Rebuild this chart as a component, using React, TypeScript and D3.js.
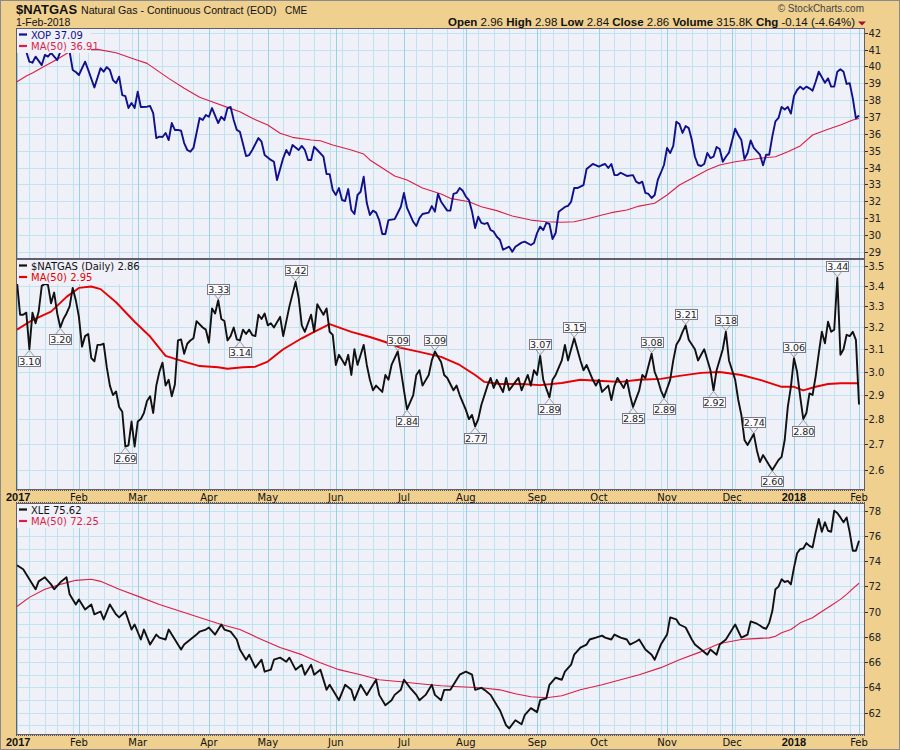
import React from "react";
import * as d3 from "d3";

// ---------- axis / calendar ----------
const HOLIDAYS = ["2017-01-16","2017-02-20","2017-04-14","2017-05-29","2017-07-04","2017-09-04","2017-11-23","2017-12-25","2018-01-01","2018-01-15"];
const MONTH_NAMES = ["Jan","Feb","Mar","Apr","May","Jun","Jul","Aug","Sep","Oct","Nov","Dec"];
const START = [2017, 0, 3];
const END = [2018, 1, 1];

const XOP_TICKS = [29,30,31,32,33,34,35,36,37,38,39,40,41,42];
const NG_TICKS = [2.6,2.7,2.8,2.9,3.0,3.1,3.2,3.3,3.4,3.5];
const XLE_TICKS = [62,64,66,68,70,72,74,76,78];
const XLE_GRID = [61,62,63,64,65,66,67,68,69,70,71,72,73,74,75,76,77,78];

// ---------- data: [trading-day index from 2017-01-03, value] ----------
const XOP: [number, number][] = [[0,41.0],[3,40.87],[4,40.28],[5,40.22],[6,40.58],[8,40.08],[9,40.68],[10,40.58],[11,40.8],[13,40.38],[14,40.87],[15,41.05],[17,40.87],[18,39.79],[19,39.67],[20,39.49],[22,40.28],[23,39.79],[25,38.75],[27,39.9],[28,39.69],[29,39.96],[30,39.79],[31,39.19],[32,39.01],[33,39.39],[34,38.3],[35,38.24],[36,37.53],[37,37.83],[38,37.53],[39,38.5],[40,37.59],[42,37.61],[43,37.65],[44,37.23],[45,35.75],[46,35.83],[47,35.81],[48,36.05],[49,35.63],[50,36.64],[51,36.23],[52,36.23],[53,36.18],[54,35.45],[55,35.04],[56,34.94],[57,35.16],[58,36.05],[59,36.94],[60,36.82],[61,37.12],[62,37.01],[63,37.53],[65,36.64],[66,37.01],[67,36.82],[68,37.53],[69,37.59],[70,36.82],[71,36.23],[72,36.12],[74,34.68],[75,34.74],[76,35.04],[78,35.75],[79,35.53],[80,34.74],[82,34.45],[83,34.34],[84,33.26],[86,34.56],[87,35.04],[88,34.74],[89,35.34],[91,35.04],[92,35.28],[93,35.04],[94,34.45],[95,34.45],[96,35.23],[97,35.04],[99,34.64],[100,33.61],[101,33.61],[102,32.66],[103,32.37],[104,32.78],[105,32.07],[106,32.01],[107,32.72],[108,31.48],[109,31.24],[110,32.37],[111,32.56],[112,33.45],[113,31.89],[114,31.18],[115,31.44],[116,31.32],[117,30.88],[118,30.05],[119,30.05],[120,30.88],[122,30.94],[123,31.3],[124,31.67],[125,32.49],[126,31.6],[128,30.78],[129,30.53],[130,31.0],[131,31.24],[133,31.32],[134,31.71],[135,31.38],[136,32.43],[137,31.97],[139,31.44],[140,31.44],[141,32.43],[142,32.49],[143,32.78],[144,32.62],[145,32.27],[146,32.07],[147,31.38],[148,30.41],[149,31.08],[150,30.71],[151,30.65],[152,30.71],[153,30.29],[154,30.19],[155,29.89],[156,29.71],[157,29.12],[159,29.3],[160,29.0],[161,29.3],[163,29.54],[164,29.6],[166,29.4],[167,29.52],[168,30.11],[169,30.49],[170,30.29],[171,30.72],[172,30.65],[173,29.76],[174,30.11],[175,31.38],[177,31.66],[178,31.72],[179,31.97],[180,32.78],[181,32.78],[183,32.96],[184,33.91],[186,34.21],[188,34.05],[189,34.15],[190,34.21],[191,33.97],[192,34.21],[193,33.55],[194,33.55],[195,33.69],[197,33.5],[199,33.55],[200,33.16],[201,33.06],[202,33.16],[203,32.49],[204,32.43],[205,32.19],[206,32.37],[207,33.26],[208,33.69],[209,34.15],[210,35.16],[211,34.86],[212,35.28],[213,36.72],[214,36.58],[215,36.05],[216,36.46],[217,36.34],[218,35.63],[219,34.64],[220,34.15],[221,34.09],[222,34.21],[223,34.86],[224,34.56],[225,34.64],[226,35.22],[227,35.1],[228,34.34],[229,34.64],[230,34.88],[232,36.3],[233,35.93],[234,35.63],[235,34.5],[236,34.86],[237,35.61],[238,35.16],[240,34.76],[241,34.13],[242,34.76],[243,34.76],[244,35.85],[245,36.74],[246,36.94],[247,37.6],[248,37.44],[249,37.6],[250,37.2],[251,38.25],[252,38.6],[253,38.8],[254,38.64],[255,38.8],[256,38.7],[257,38.56],[258,39.09],[259,39.69],[261,39.03],[262,39.29],[263,38.8],[264,38.8],[265,39.69],[266,39.83],[267,39.69],[268,38.96],[269,39.0],[270,38.1],[271,36.92],[272,37.09]];

const XOP_MA: [number, number][] = [[0,39.09],[3,39.43],[5,39.61],[8,39.92],[13,40.42],[17,40.87],[22,40.99],[26,41.01],[32,40.81],[38,40.42],[42,40.18],[49,39.29],[54,38.7],[59,38.17],[63,37.9],[68,37.57],[72,37.31],[76,36.92],[81,36.52],[85,36.03],[89,35.79],[95,35.63],[98,35.59],[102,35.34],[108,35.04],[112,34.8],[114,34.45],[118,33.97],[122,33.5],[126,33.26],[131,32.78],[137,32.43],[140,32.17],[146,31.97],[150,31.67],[155,31.44],[160,31.12],[166,30.88],[171,30.78],[176,30.75],[180,30.78],[184,30.94],[189,31.18],[192,31.32],[197,31.48],[201,31.71],[206,31.88],[210,32.37],[214,32.96],[219,33.45],[223,33.85],[227,34.15],[232,34.34],[236,34.45],[240,34.55],[245,34.64],[249,34.94],[253,35.28],[257,35.93],[262,36.27],[266,36.52],[270,36.82],[272,36.91]];

const NG: [number, number][] = [[0,3.42],[1,3.26],[2,3.26],[3,3.27],[4,3.10],[5,3.27],[6,3.22],[7,3.275],[8,3.40],[9,3.41],[10,3.405],[11,3.315],[12,3.367],[13,3.266],[14,3.20],[15,3.24],[16,3.266],[17,3.30],[18,3.39],[19,3.33],[20,3.25],[21,3.112],[22,3.16],[23,3.17],[24,3.06],[25,3.046],[26,3.12],[27,3.12],[28,3.125],[29,3.02],[30,2.94],[31,2.90],[32,2.915],[33,2.85],[34,2.83],[35,2.69],[36,2.695],[37,2.79],[38,2.69],[39,2.79],[40,2.80],[41,2.825],[42,2.875],[43,2.895],[44,2.825],[45,2.94],[46,3.00],[47,3.04],[48,2.94],[49,2.965],[50,2.895],[51,2.945],[52,3.14],[53,3.145],[54,3.08],[55,3.125],[56,3.14],[57,3.15],[58,3.23],[60,3.20],[61,3.19],[62,3.13],[63,3.29],[64,3.266],[65,3.33],[66,3.24],[67,3.23],[68,3.14],[69,3.16],[70,3.20],[71,3.145],[72,3.14],[73,3.19],[74,3.17],[75,3.19],[76,3.165],[77,3.16],[78,3.26],[79,3.24],[80,3.266],[81,3.21],[82,3.22],[83,3.20],[85,3.25],[86,3.16],[88,3.30],[90,3.42],[91,3.34],[92,3.21],[93,3.18],[95,3.26],[96,3.18],[97,3.31],[99,3.26],[100,3.29],[101,3.18],[102,3.166],[103,3.03],[104,3.075],[106,3.03],[107,3.075],[108,2.986],[109,3.10],[110,3.03],[112,3.12],[113,3.03],[114,2.965],[115,2.92],[116,2.94],[118,2.913],[119,2.986],[120,2.965],[121,3.03],[123,3.09],[124,3.007],[125,2.92],[126,2.84],[128,2.90],[129,2.986],[130,3.007],[131,2.94],[133,2.986],[134,3.05],[135,3.09],[137,3.043],[138,2.986],[139,2.973],[141,2.92],[142,2.94],[143,2.90],[145,2.838],[146,2.80],[147,2.817],[148,2.77],[149,2.80],[150,2.858],[152,2.94],[153,2.973],[154,2.93],[155,2.965],[157,2.913],[158,2.973],[159,2.92],[161,2.956],[162,2.973],[163,2.92],[165,2.986],[166,2.94],[167,3.007],[168,2.986],[169,3.07],[170,2.965],[172,2.89],[173,2.965],[174,2.986],[176,3.05],[177,3.12],[178,3.05],[179,3.10],[180,3.15],[182,3.05],[183,3.007],[184,3.03],[186,2.965],[187,2.94],[188,2.965],[189,2.913],[191,2.94],[192,2.879],[193,2.94],[194,2.973],[196,2.93],[197,2.965],[198,2.90],[199,2.85],[201,2.92],[202,2.986],[203,2.973],[205,3.08],[206,2.999],[207,2.965],[208,2.92],[209,2.89],[211,2.965],[212,3.05],[213,3.12],[214,3.143],[215,3.18],[216,3.21],[217,3.143],[219,3.10],[220,3.05],[221,3.075],[222,3.10],[224,3.007],[225,2.92],[226,3.007],[228,3.10],[229,3.18],[230,3.05],[232,2.965],[233,2.879],[234,2.817],[235,2.716],[236,2.696],[238,2.74],[239,2.676],[240,2.63],[241,2.657],[243,2.618],[244,2.60],[246,2.638],[247,2.65],[248,2.716],[249,2.85],[250,2.935],[251,3.06],[252,3.0],[253,2.893],[254,2.80],[255,2.825],[256,2.907],[257,2.90],[258,2.98],[259,3.082],[260,3.18],[261,3.127],[262,3.227],[263,3.18],[264,3.19],[265,3.44],[266,3.075],[267,3.10],[268,3.166],[269,3.16],[270,3.18],[271,3.143],[272,2.86]];

const NG_MA: [number, number][] = [[0,3.19],[5,3.235],[11,3.275],[16,3.346],[20,3.39],[24,3.397],[27,3.384],[32,3.32],[38,3.227],[43,3.158],[48,3.07],[54,3.045],[59,3.025],[65,3.02],[68,3.013],[73,3.02],[77,3.022],[81,3.045],[86,3.10],[92,3.15],[96,3.18],[101,3.216],[108,3.18],[114,3.156],[119,3.133],[124,3.106],[130,3.088],[137,3.066],[143,3.03],[148,2.986],[151,2.956],[156,2.947],[163,2.947],[169,2.942],[176,2.951],[182,2.965],[189,2.96],[195,2.956],[201,2.965],[208,2.969],[214,2.982],[221,2.995],[227,2.999],[234,2.986],[240,2.965],[247,2.935],[251,2.935],[254,2.92],[258,2.935],[262,2.947],[266,2.95],[270,2.95],[272,2.95]];

// [day index, value, 'h' (peak) | 'l' (trough)]
const NG_LABELS: [number, number, string][] = [[4,3.10,"l"],[14,3.20,"l"],[35,2.69,"l"],[65,3.33,"h"],[72,3.14,"l"],[90,3.42,"h"],[123,3.09,"h"],[126,2.84,"l"],[135,3.09,"h"],[148,2.77,"l"],[169,3.07,"h"],[172,2.89,"l"],[180,3.15,"h"],[199,2.85,"l"],[205,3.08,"h"],[209,2.89,"l"],[216,3.21,"h"],[225,2.92,"l"],[229,3.18,"h"],[238,2.74,"h"],[244,2.60,"l"],[251,3.06,"h"],[254,2.80,"l"],[265,3.44,"h"]];

const XLE: [number, number][] = [[0,73.68],[2,73.36],[3,72.96],[4,72.56],[6,71.77],[7,72.4],[9,72.72],[11,72.16],[12,71.77],[14,72.32],[16,72.72],[17,71.37],[19,70.57],[20,70.97],[22,70.17],[24,70.57],[25,69.78],[27,70.01],[28,69.38],[30,70.57],[32,69.78],[33,69.54],[35,70.01],[37,68.58],[38,68.98],[40,67.79],[41,68.58],[43,67.39],[45,68.18],[46,67.94],[48,67.79],[49,68.58],[51,67.79],[53,66.99],[54,67.39],[56,67.79],[58,68.18],[59,68.42],[61,68.58],[62,68.74],[64,68.18],[66,68.98],[67,68.58],[69,68.42],[71,67.79],[72,66.99],[74,66.19],[75,66.59],[77,65.56],[79,66.19],[80,65.24],[82,65.4],[83,66.19],[85,66.35],[87,66.03],[88,66.35],[90,65.4],[92,65.79],[93,65.0],[95,65.79],[96,65.0],[98,65.4],[100,63.8],[101,64.2],[103,63.4],[104,62.98],[106,64.2],[108,63.8],[109,62.98],[111,64.2],[113,63.4],[114,63.8],[116,64.6],[117,63.4],[119,62.58],[121,62.98],[122,63.4],[124,63.8],[125,64.6],[127,63.96],[129,63.4],[130,62.98],[132,63.4],[134,64.2],[135,63.4],[137,62.98],[138,63.8],[140,63.8],[142,64.6],[143,65.0],[145,65.24],[147,65.0],[148,63.8],[150,63.96],[151,63.8],[153,63.4],[155,62.58],[156,62.19],[158,60.99],[159,60.75],[161,61.39],[163,61.07],[164,61.79],[166,62.35],[168,62.03],[169,62.98],[171,63.13],[172,64.2],[174,64.76],[176,64.6],[177,65.24],[179,65.79],[180,66.59],[182,67.15],[184,67.39],[185,67.79],[187,67.94],[189,68.1],[190,67.94],[192,67.79],[193,68.18],[195,67.94],[197,67.79],[198,67.39],[200,67.63],[201,67.79],[203,66.99],[205,66.59],[206,66.19],[208,67.39],[210,68.18],[211,69.54],[213,69.38],[214,68.98],[216,68.74],[218,67.79],[219,67.39],[221,66.99],[223,66.59],[224,66.99],[226,66.59],[227,67.39],[229,67.79],[231,68.58],[232,68.98],[234,67.94],[236,68.18],[237,69.22],[239,69.04],[240,68.9],[241,68.72],[242,68.64],[243,69.11],[244,70.04],[245,71.77],[246,71.98],[247,72.56],[248,72.35],[249,72.43],[250,72.16],[251,73.49],[252,74.63],[253,74.95],[254,75.0],[255,75.43],[256,75.21],[257,75.09],[258,76.28],[259,77.34],[260,76.33],[261,77.08],[262,76.41],[263,76.33],[264,78.0],[265,77.82],[266,77.47],[267,77.08],[268,77.47],[269,76.28],[270,74.82],[271,74.82],[272,75.62]];

const XLE_MA: [number, number][] = [[0,70.41],[4,71.13],[9,71.77],[14,72.16],[19,72.48],[24,72.56],[27,72.4],[33,71.77],[40,71.13],[46,70.57],[53,70.01],[59,69.54],[66,68.98],[72,68.58],[79,67.79],[85,67.15],[92,66.59],[98,65.95],[104,65.4],[111,65.0],[117,64.6],[124,64.44],[130,64.28],[137,64.12],[143,64.04],[150,63.96],[156,63.8],[161,63.49],[166,63.25],[171,63.17],[176,63.33],[182,63.8],[189,64.2],[195,64.6],[201,65.0],[208,65.56],[214,66.19],[221,66.83],[227,67.47],[234,67.79],[237,67.84],[243,67.92],[245,68.05],[247,68.32],[250,68.58],[253,69.11],[257,69.51],[259,69.85],[263,70.49],[266,70.97],[268,71.37],[270,71.82],[272,72.25]];

// ---------- helpers ----------
function buildCalendar(): Date[] {
  const out: Date[] = [];
  const d = new Date(Date.UTC(START[0], START[1], START[2]));
  const end = Date.UTC(END[0], END[1], END[2]);
  while (d.getTime() <= end) {
    const wd = d.getUTCDay();
    const iso = d.toISOString().slice(0, 10);
    if (wd !== 0 && wd !== 6 && !HOLIDAYS.includes(iso)) out.push(new Date(d.getTime()));
    d.setUTCDate(d.getUTCDate() + 1);
  }
  return out;
}

const TAN = "#efd08f";
const PLOT_BG = "#f0f0f8";
const GRID = "#bfe3ef";
const GRID_M = "#98d0e4";
const BORDER = "#5e5e70";
const SANS = "'Liberation Sans', Arial, sans-serif";
const VER = "'DejaVu Sans', Verdana, sans-serif";

export default function App() {
  const cal = buildCalendar();
  const n = cal.length;
  const L = 16, R = 865;
  const x = d3.scaleLinear().domain([0, n - 1]).range([17, 859]);
  const P1 = { top: 28, bottom: 259 };
  const P2 = { top: 259, bottom: 490 };
  const P3 = { top: 503, bottom: 735 };
  const y1 = d3.scaleLinear().domain([28.57, 42.28]).range([P1.bottom, P1.top]);
  const y2 = d3.scaleLog().domain([2.525, 3.536]).range([P2.bottom, P2.top]);
  const y3 = d3.scaleLinear().domain([60.22, 78.61]).range([P3.bottom, P3.top]);

  const weekStarts: number[] = [];
  const monthStarts: number[] = [];
  cal.forEach((d, i) => {
    if (i === 0) { monthStarts.push(i); return; }
    const p = cal[i - 1];
    if (d.getUTCMonth() !== p.getUTCMonth()) monthStarts.push(i);
    else if (d.getUTCDay() < p.getUTCDay()) weekStarts.push(i);
  });

  const px = (i: number) => Math.round(x(i)) + 0.5;

  const panels = [
    { id: "p1", ...P1, y: y1 as any, ticks: XOP_TICKS, grid: XOP_TICKS, fmt: (v: number) => String(v) },
    { id: "p2", ...P2, y: y2 as any, ticks: NG_TICKS, grid: NG_TICKS, fmt: (v: number) => v.toFixed(1) },
    { id: "p3", ...P3, y: y3 as any, ticks: XLE_TICKS, grid: XLE_GRID, fmt: (v: number) => String(v) },
  ];

  const mkLine = (y: any) =>
    d3.line<[number, number]>().x((d) => x(d[0])).y((d) => y(d[1]));

  const bands = [490, 735];

  const monthLabel = (i: number) => {
    const d = cal[i];
    const m = d.getUTCMonth();
    return m === 0 ? String(d.getUTCFullYear()) : MONTH_NAMES[m];
  };

  const legend = (top: number, items: { label: string; color: string; w: number }[]) => (
    <g>
      <rect x={17} y={top + 1} width={Math.max(...items.map((it) => it.w)) + 16} height={items.length * 11.5 + 1} fill={PLOT_BG} />
      {items.map((it, k) => (
        <g key={k}>
          <line x1={19} x2={27} y1={top + 6.5 + k * 11.5} y2={top + 6.5 + k * 11.5} stroke={it.color} strokeWidth={2.2} />
          <text x={31} y={top + 10.5 + k * 11.5} fontFamily={VER} fontSize={10} fill={it.color}>{it.label}</text>
        </g>
      ))}
    </g>
  );

  return (
    <svg width={900} height={750} viewBox="0 0 900 750" style={{ position: "absolute", left: 0, top: 0, display: "block" }}>
      <defs>
        {panels.map((p) => (
          <clipPath id={"clip-" + p.id} key={p.id}>
            <rect x={L} y={p.top} width={R - L} height={p.bottom - p.top} />
          </clipPath>
        ))}
      </defs>
      <rect x={0} y={0} width={900} height={750} fill={TAN} />

      {/* header */}
      <text x={16} y={14} fontFamily={SANS} fontWeight="bold" fontSize={13} fill="#111">$NATGAS</text>
      <text x={81} y={14} fontFamily={SANS} fontSize={10.6} fill="#111">Natural Gas - Continuous Contract (EOD)</text>
      <text x={285} y={14} fontFamily={SANS} fontSize={10} fill="#111">CME</text>
      <text x={16} y={25.5} fontFamily={SANS} fontSize={10.5} fill="#111">1-Feb-2018</text>
      <text x={864} y={11.5} textAnchor="end" fontFamily={SANS} fontSize={10} fill="#444">© StockCharts.com</text>
      <text x={855} y={25.5} textAnchor="end" fontFamily={SANS} fontSize={11.5} fill="#111">
        <tspan fontWeight="bold">Open</tspan> 2.96 <tspan fontWeight="bold">High</tspan> 2.98 <tspan fontWeight="bold">Low</tspan> 2.84 <tspan fontWeight="bold">Close</tspan> 2.86 <tspan fontWeight="bold">Volume</tspan> 315.8K <tspan fontWeight="bold">Chg</tspan> -0.14 (-4.64%)
      </text>
      <path d="M858,21.5 L866,21.5 L862,25.5 Z" fill="#a01030" />

      {/* panels background + grid */}
      {panels.map((p) => (
        <g key={p.id}>
          <rect x={L} y={p.top} width={R - L} height={p.bottom - p.top} fill={PLOT_BG} />
          {p.grid.map((v) => {
            const yy = Math.round(p.y(v)) + 0.5;
            return <line key={"h" + v} x1={L} x2={R} y1={yy} y2={yy} stroke={GRID} strokeWidth={1} />;
          })}
          {weekStarts.map((i) => (
            <line key={"w" + i} x1={px(i)} x2={px(i)} y1={p.top} y2={p.bottom} stroke={GRID} strokeWidth={1} />
          ))}
          {monthStarts.map((i) => (
            <line key={"m" + i} x1={px(i)} x2={px(i)} y1={p.top} y2={p.bottom} stroke={GRID_M} strokeWidth={1} />
          ))}
        </g>
      ))}

      {/* series */}
      <g clipPath="url(#clip-p1)" fill="none" strokeLinejoin="round">
        <path d={mkLine(y1)(XOP_MA) || ""} stroke="#dc1e46" strokeWidth={1.1} />
        <path d={mkLine(y1)(XOP) || ""} stroke="#10108c" strokeWidth={1.9} />
      </g>
      <g clipPath="url(#clip-p2)" fill="none" strokeLinejoin="round">
        <path d={mkLine(y2)(NG_MA) || ""} stroke="#e60000" strokeWidth={1.9} />
        <path d={mkLine(y2)(NG) || ""} stroke="#111" strokeWidth={1.9} />
      </g>
      <g clipPath="url(#clip-p3)" fill="none" strokeLinejoin="round">
        <path d={mkLine(y3)(XLE_MA) || ""} stroke="#dc1e46" strokeWidth={1.1} />
        <path d={mkLine(y3)(XLE) || ""} stroke="#111" strokeWidth={1.9} />
      </g>

      {/* natgas peak / trough labels */}
      {NG_LABELS.map(([i, v, k]) => {
        const cx = x(i);
        const cy = y2(v);
        const high = k === "h";
        const bw = 22, bh = 10;
        const tip = high ? cy - 1 : cy + 1;
        const edge = high ? cy - 6.5 : cy + 6.5;
        const by = high ? edge - bh : edge;
        return (
          <g key={"lab" + i}>
            <path d={`M${cx - 4.5},${edge} L${cx},${tip} L${cx + 4.5},${edge}`} fill="none" stroke="#9a9aa6" strokeWidth={1} />
            <rect x={Math.round(cx - bw / 2) + 0.5} y={Math.round(by) + 0.5} width={bw} height={bh} fill="#fbfbfd" stroke="#7a7a88" strokeWidth={1} />
            <text x={cx + 0.5} y={Math.round(by) + 9} textAnchor="middle" fontFamily={VER} fontSize={9.5} fill="#222">{v.toFixed(2)}</text>
          </g>
        );
      })}

      {/* legends */}
      {legend(P1.top, [
        { label: "XOP 37.09", color: "#10108c", w: 58 },
        { label: "MA(50) 36.91", color: "#dc1e46", w: 58 },
      ])}
      {legend(P2.top, [
        { label: "$NATGAS (Daily) 2.86", color: "#111", w: 92 },
        { label: "MA(50) 2.95", color: "#e60000", w: 92 },
      ])}
      {legend(P3.top, [
        { label: "XLE 75.62", color: "#111", w: 58 },
        { label: "MA(50) 72.25", color: "#dc1e46", w: 58 },
      ])}

      {/* panel borders */}
      {panels.map((p) => (
        <rect key={"b" + p.id} x={L + 0.5} y={p.top + 0.5} width={R - L - 1} height={p.bottom - p.top - 1} fill="none" stroke={BORDER} strokeWidth={1} />
      ))}

      {/* right axes */}
      {panels.map((p) => (
        <g key={"ax" + p.id}>
          {p.ticks.map((v) => {
            const yy = Math.round(p.y(v)) + 0.5;
            return (
              <g key={"t" + v}>
                <line x1={R} x2={R + 3} y1={yy} y2={yy} stroke="#333" strokeWidth={1} />
                <text x={R + 3.5} y={yy + 3.8} fontFamily={VER} fontSize={10} fill="#222">{p.fmt(v)}</text>
              </g>
            );
          })}
        </g>
      ))}

      {/* date bands */}
      {bands.map((b) => (
        <g key={"band" + b}>
          <line x1={L} x2={R} y1={b + 0.5} y2={b + 0.5} stroke="#555" strokeWidth={1} strokeDasharray="1,1" />
          {b === 490 && <line x1={L} x2={R} y1={502.5} y2={502.5} stroke="#555" strokeWidth={1} strokeDasharray="1,1" />}
          {monthStarts.map((i) => {
            const lab = monthLabel(i);
            const isYear = cal[i].getUTCMonth() === 0;
            return (
              <text key={"ml" + i} x={x(i)} y={b + 10.5} textAnchor={i === 0 ? "start" : "middle"} dx={i === 0 ? -11 : 0}
                fontFamily={isYear ? SANS : VER} fontWeight={isYear ? "bold" : "normal"} fontSize={isYear ? 11 : 10} fill="#111">{lab}</text>
            );
          })}
        </g>
      ))}

      <rect x={0.5} y={0.5} width={899} height={749} fill="none" stroke="#8a8a8a" strokeWidth={1} />
    </svg>
  );
}
